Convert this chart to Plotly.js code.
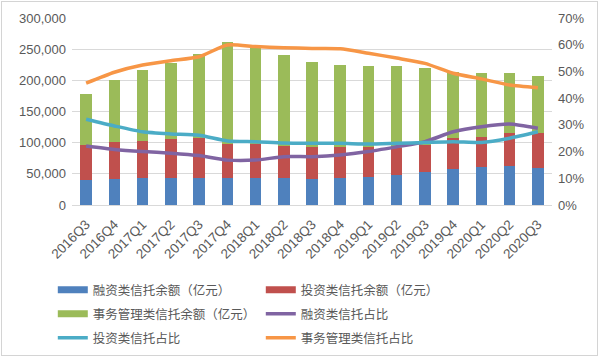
<!DOCTYPE html>
<html>
<head>
<meta charset="utf-8">
<script src="https://cdn.plot.ly/plotly-3.0.1.min.js"></script>
<style>
  body { margin: 0; background: #fff; }
  #wrap { position: relative; width: 600px; height: 360px; }
  #frame { position: absolute; left: 1px; top: 1px; width: 597px; height: 355px; box-sizing: border-box; border: 1px solid #d4d4d4; pointer-events: none; }
</style>
</head>
<body>
<div id="wrap"><div id="chart" style="width:600px;height:360px;"></div><div id="frame"></div></div>
<script>
const categories = ['2016Q3','2016Q4','2017Q1','2017Q2','2017Q3','2017Q4','2018Q1','2018Q2','2018Q3','2018Q4','2019Q1','2019Q2','2019Q3','2019Q4','2020Q1','2020Q2','2020Q3'];

// 余额（亿元）
const financingBalance = [40100, 41700, 43300, 43300, 42800, 42800, 42800, 42800, 41700, 42800, 45200, 47400, 52200, 58000, 60500, 62000, 59000];
const investmentBalance = [56100, 59800, 59800, 62000, 64200, 54500, 54500, 52300, 50800, 50700, 48300, 44500, 44000, 50000, 49100, 53000, 56000];
const affairsBalance = [82500, 99000, 113300, 122800, 135000, 163700, 154000, 145400, 136400, 131000, 129400, 131100, 123000, 105000, 101600, 96200, 91900];

// 占比（%）
const financingShare = [22.1, 20.8, 20.0, 19.4, 18.5, 16.8, 16.8, 18.1, 18.1, 18.7, 20.0, 21.8, 23.7, 27.4, 29.3, 30.3, 28.7];
const investmentShare = [32.1, 29.6, 27.4, 26.6, 26.1, 24.0, 23.7, 23.2, 23.1, 23.1, 22.8, 23.1, 23.4, 23.7, 23.4, 25.0, 27.4];
const affairsShare = [45.6, 49.7, 52.4, 54.0, 55.5, 59.9, 59.3, 58.9, 58.6, 58.5, 56.8, 55.0, 53.0, 49.3, 47.2, 44.9, 43.9];

const seriesNames = ['融资类信托余额（亿元）','投资类信托余额（亿元）','事务管理类信托余额（亿元）','融资类信托占比','投资类信托占比','事务管理类信托占比'];
const colors = ['#4F81BD','#C0504D','#9BBB59','#8064A2','#4BACC6','#F79646'];
// legend row for each series (reference shows 3 rows of 2)
const legendRows = ['legend','legend','legend2','legend2','legend3','legend3'];

const bars = [financingBalance, investmentBalance, affairsBalance].map((vals, i) => ({
  type: 'bar', x: categories, y: vals, name: seriesNames[i],
  marker: {color: colors[i]}, showlegend: false, hoverinfo: 'y'
}));

// legend swatches for bar series (wide bands as in the reference)
const barKeys = [0,1,2].map(i => ({
  type: 'scatter', mode: 'lines', x: [null], y: [null], name: seriesNames[i],
  line: {color: colors[i], width: 7}, legend: legendRows[i], hoverinfo: 'skip'
}));

const lines = [financingShare, investmentShare, affairsShare].map((vals, i) => ({
  type: 'scatter', mode: 'lines', x: categories, y: vals, yaxis: 'y2',
  name: seriesNames[i+3], line: {color: colors[i+3], width: 3.5, shape: 'spline', smoothing: 0.6},
  legend: legendRows[i+3]
}));

const traces = [...bars, barKeys[0], barKeys[1], barKeys[2], lines[0], lines[1], lines[2]];

const txt = '#595959';
const legendFont = {family: '"Noto Sans CJK SC", sans-serif', size: 12.5, color: txt};
const mkLegend = (yc) => ({
  orientation: 'h', x: 0.088, xref: 'container', xanchor: 'left',
  y: yc, yref: 'container', yanchor: 'middle', traceorder: 'normal',
  entrywidth: 163, entrywidthmode: 'pixels', font: legendFont,
  itemwidth: 30, bgcolor: 'rgba(0,0,0,0)', borderwidth: 0
});

const layout = {
  width: 600, height: 360,
  margin: {l: 72, r: 48, t: 18, b: 155},
  paper_bgcolor: '#fff', plot_bgcolor: '#fff',
  barmode: 'stack', bargap: 0.59,
  font: {family: '"Liberation Sans", "Noto Sans CJK SC", sans-serif', size: 13, color: txt},
  xaxis: {
    type: 'category', tickangle: -45, showgrid: false, showline: false, zeroline: false,
    tickfont: {size: 13.5, color: txt}, ticks: '', ticklabelstandoff: 8
  },
  yaxis: {
    range: [0, 300000], dtick: 50000, tickformat: ',d', showgrid: true, gridcolor: '#d9d9d9',
    gridwidth: 1, zeroline: true, zerolinecolor: '#d9d9d9', showline: false, ticks: '',
    ticklabelstandoff: 5, tickfont: {size: 13, color: txt}
  },
  yaxis2: {
    overlaying: 'y', side: 'right', range: [0, 70], dtick: 10, ticksuffix: '%',
    showgrid: false, zeroline: false, showline: false, ticks: '', ticklabelstandoff: 5,
    tickfont: {size: 13, color: txt}
  },
  legend: mkLegend(1 - 290 / 360),
  legend2: mkLegend(1 - 314 / 360),
  legend3: mkLegend(1 - 338 / 360),
  showlegend: true
};

Plotly.newPlot('chart', traces, layout, {displayModeBar: false, staticPlot: true});
</script>
</body>
</html>
